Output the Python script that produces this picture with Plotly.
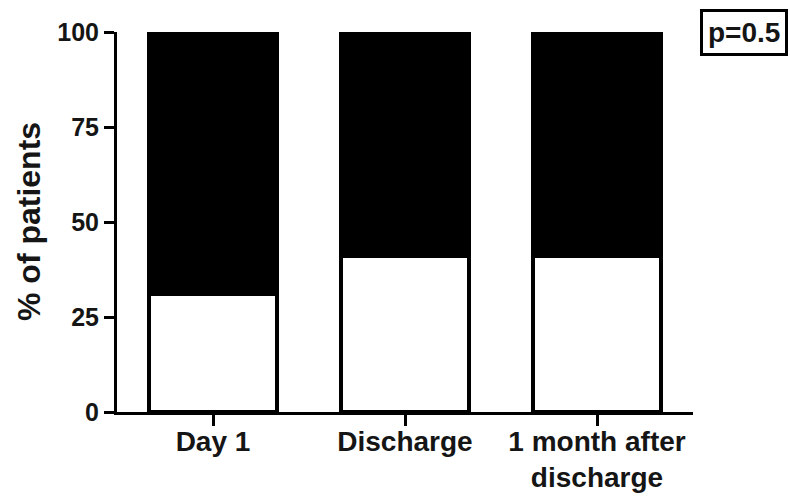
import plotly.graph_objects as go

categories = ["Day 1", "Discharge", "1 month after<br>discharge"]
white_pct = [31, 41, 41]
black_pct = [69, 59, 59]
y_ticks = [0, 25, 50, 75, 100]
p_label = "p=0.5"

FONT = "Liberation Sans, Arial, sans-serif"
TXT = "#151515"

fig = go.Figure()
fig.add_trace(go.Bar(
    x=categories, y=white_pct, width=0.665,
    marker=dict(color="white", line=dict(color="black", width=4)),
    cliponaxis=False, showlegend=False, hoverinfo="skip",
))
fig.add_trace(go.Bar(
    x=categories, y=black_pct, width=0.665,
    marker=dict(color="black", line=dict(color="black", width=4)),
    cliponaxis=False, showlegend=False, hoverinfo="skip",
))

fig.update_layout(
    barmode="stack",
    width=790, height=504,
    margin=dict(l=117, r=97, t=32, b=92, autoexpand=False),
    paper_bgcolor="white", plot_bgcolor="white",
    font=dict(family=FONT, color=TXT, weight="bold"),
    xaxis=dict(
        type="category", range=[-0.5, 2.5],
        showline=True, linecolor="black", linewidth=3,
        ticks="outside", ticklen=11, tickwidth=3, tickcolor="black",
        ticklabelstandoff=-9,
        tickfont=dict(size=28, family=FONT, weight="bold", color=TXT),
        showgrid=False, zeroline=False, fixedrange=True,
    ),
    yaxis=dict(
        range=[0, 100], tickvals=y_ticks, ticktext=[str(v) for v in y_ticks],
        showline=True, linecolor="black", linewidth=3,
        ticks="outside", ticklen=10, tickwidth=3, tickcolor="black",
        tickfont=dict(size=25, family=FONT, weight="bold", color=TXT),
        showgrid=False, zeroline=False, fixedrange=True,
    ),
    annotations=[
        dict(text="% of patients", xref="paper", yref="paper",
             x=(29 - 117) / 576, y=0.5, xanchor="center", yanchor="middle",
             textangle=-90, showarrow=False,
             font=dict(size=32, family=FONT, weight="bold", color=TXT)),
        dict(text=p_label, xref="paper", yref="paper",
             x=(744 - 117) / 576, y=(412 - 32) / 380, xanchor="center", yanchor="middle",
             showarrow=False, bordercolor="black", borderwidth=3, borderpad=5,
             bgcolor="white",
             font=dict(size=28, family=FONT, weight="bold", color=TXT)),
    ],
)

fig.write_html(
    "out.html",
    config={"displayModeBar": False, "staticPlot": True},
    post_script="document.body.style.margin='0';document.body.style.overflow='hidden';",
)
